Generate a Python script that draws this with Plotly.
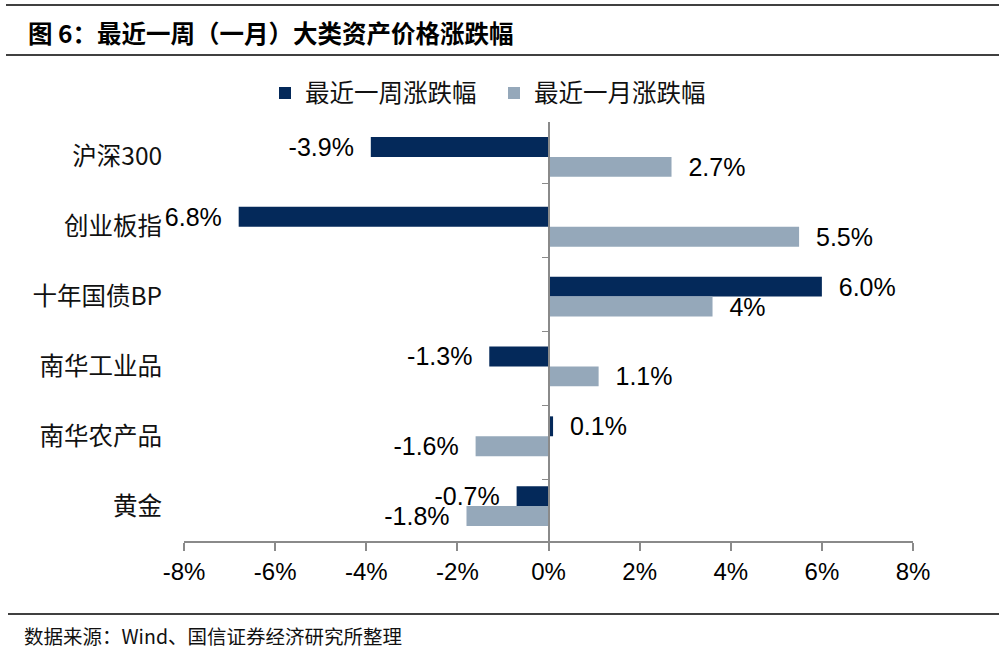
import plotly.graph_objects as go

categories = ["沪深300", "创业板指", "十年国债BP", "南华工业品", "南华农产品", "黄金"]
week_values = [-3.9, -6.8, 6.0, -1.3, 0.1, -0.7]
month_values = [2.7, 5.5, 3.6, 1.1, -1.6, -1.8]
week_labels = ["-3.9%", "6.8%", "6.0%", "-1.3%", "0.1%", "-0.7%"]
month_labels = ["2.7%", "5.5%", "4%", "1.1%", "-1.6%", "-1.8%"]
series_names = ["最近一周涨跌幅", "最近一月涨跌幅"]
tick_values = [-8, -6, -4, -2, 0, 2, 4, 6, 8]
tick_labels = ["-8%", "-6%", "-4%", "-2%", "0%", "2%", "4%", "6%", "8%"]

title_text = "图 6：最近一周（一月）大类资产价格涨跌幅"
source_text = "数据来源：Wind、国信证券经济研究所整理"

W, H = 999, 653
ML, MR, MT, MB = 184, 86, 122, 112
PW, PH = W - ML - MR, H - MT - MB

FONT = "Liberation Sans, Arial, Noto Sans CJK SC, sans-serif"
CJK = "Noto Sans CJK SC, Liberation Sans, sans-serif"
DARK = "#04295a"
LIGHT = "#95a8ba"
AXIS = "#8a8a8a"
PAD = "\u00a0\u00a0"


def pad(labels, values):
    return [(PAD + t) if v >= 0 else (t + PAD) for t, v in zip(labels, values)]


def px_x(p):
    return (p - ML) / PW


def px_y(p):
    return (H - MB - p) / PH


fig = go.Figure()
fig.add_trace(go.Bar(
    name=series_names[0], y=categories, x=week_values, orientation="h",
    marker=dict(color=DARK, line=dict(width=0)),
    text=pad(week_labels, week_values), textposition="outside",
    textfont=dict(size=25, color="#000000", family=FONT),
    cliponaxis=False, constraintext="none", hoverinfo="skip",
))
fig.add_trace(go.Bar(
    name=series_names[1], y=categories, x=month_values, orientation="h",
    marker=dict(color=LIGHT, line=dict(width=0)),
    text=pad(month_labels, month_values), textposition="outside",
    textfont=dict(size=25, color="#000000", family=FONT),
    cliponaxis=False, constraintext="none", hoverinfo="skip",
))
# invisible helper trace to carry the zero-line category axis
fig.add_trace(go.Scatter(
    x=[0] * len(categories), y=categories, yaxis="y2", mode="markers",
    marker=dict(opacity=0), showlegend=False, hoverinfo="skip",
))

fig.update_layout(
    width=W, height=H,
    margin=dict(l=ML, r=MR, t=MT, b=MB),
    paper_bgcolor="white", plot_bgcolor="white",
    barmode="group", bargap=0.43, bargroupgap=0,
    font=dict(family=FONT, color="#000000"),
    showlegend=True,
    legend=dict(
        orientation="h", x=px_x(494), xanchor="center", y=px_y(93), yanchor="middle",
        font=dict(size=24.5, family=CJK, color="#111111"),
        itemwidth=30, entrywidth=184, traceorder="normal",
        bgcolor="rgba(0,0,0,0)",
    ),
    xaxis=dict(
        range=[-8, 8], tickvals=tick_values, ticktext=tick_labels,
        showgrid=False, zeroline=False,
        showline=True, linecolor=AXIS, linewidth=2,
        ticks="outside", ticklen=8, tickwidth=2, tickcolor=AXIS,
        tickfont=dict(size=24, family=FONT, color="#000000"),
        fixedrange=True,
    ),
    yaxis=dict(
        autorange="reversed", categoryorder="array", categoryarray=categories,
        showgrid=False, zeroline=False, showline=False,
        ticks="outside", ticklen=16, tickcolor="rgba(0,0,0,0)",
        tickfont=dict(size=24.5, family=CJK, color="#111111"),
        fixedrange=True,
    ),
    yaxis2=dict(
        overlaying="y", anchor="free", position=0.5, side="left",
        autorange="reversed", categoryorder="array", categoryarray=categories,
        showgrid=False, zeroline=False,
        showline=True, linecolor=AXIS, linewidth=2,
        ticks="outside", tickson="boundaries", ticklen=6, tickwidth=1.5, tickcolor=AXIS,
        showticklabels=False, fixedrange=True,
    ),
    shapes=[
        dict(type="line", xref="paper", yref="paper", x0=px_x(6), x1=px_x(999),
             y0=px_y(5), y1=px_y(5), line=dict(color="#000000", width=1.5)),
        dict(type="line", xref="paper", yref="paper", x0=px_x(6), x1=px_x(999),
             y0=px_y(55), y1=px_y(55), line=dict(color="#000000", width=1.5)),
        dict(type="line", xref="paper", yref="paper", x0=px_x(8), x1=px_x(999),
             y0=px_y(614), y1=px_y(614), line=dict(color="#000000", width=1.5)),
    ],
    annotations=[
        dict(text="<b>" + title_text + "</b>", xref="paper", yref="paper",
             x=px_x(26), y=px_y(33), xanchor="left", yanchor="middle", showarrow=False,
             font=dict(size=24.5, family=CJK, color="#000000")),
        dict(text=source_text, xref="paper", yref="paper",
             x=px_x(22), y=px_y(635), xanchor="left", yanchor="middle", showarrow=False,
             font=dict(size=19.5, family=CJK, color="#111111")),
    ],
)

fig.write_html(
    "out.html",
    config={"displayModeBar": False, "staticPlot": True},
    post_script="document.body.style.margin='0';document.body.style.overflow='hidden';",
)
